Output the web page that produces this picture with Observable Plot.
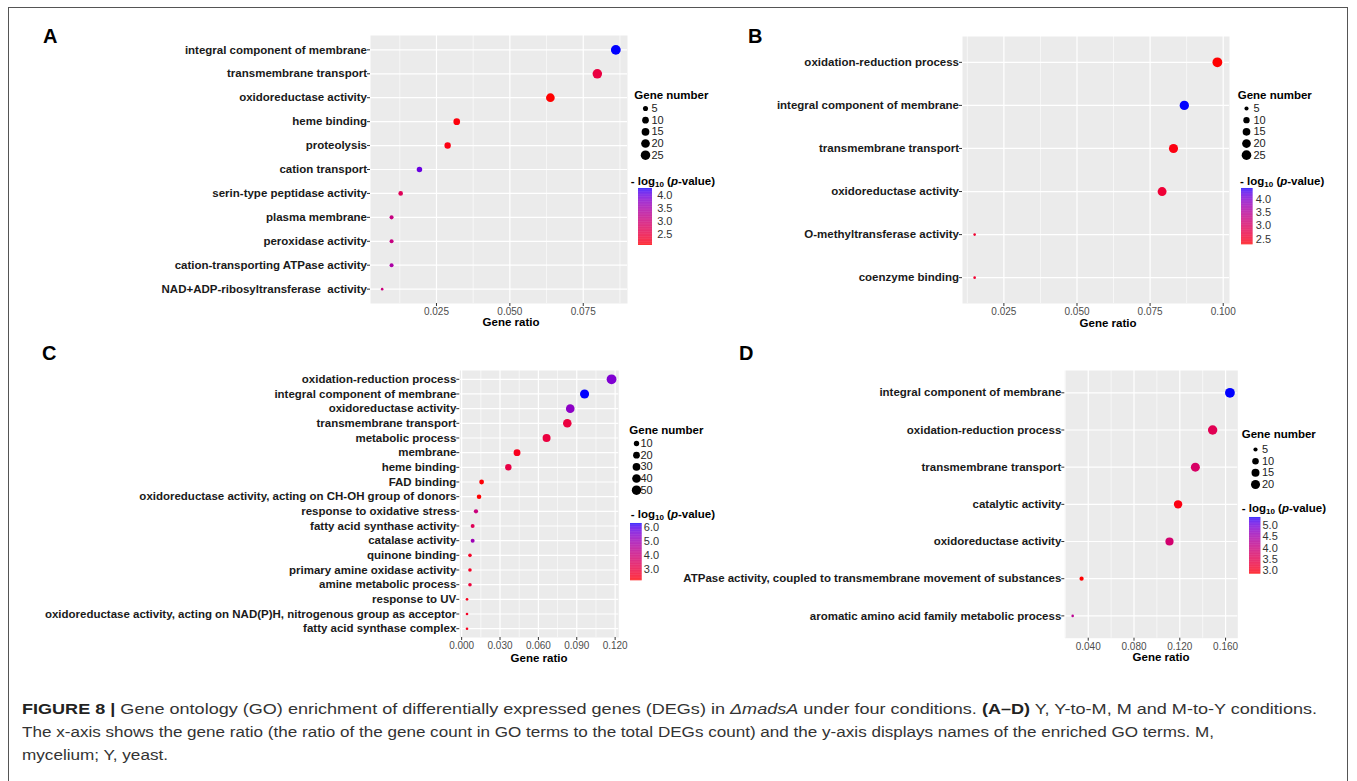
<!DOCTYPE html>
<html>
<head>
<meta charset="utf-8">
<script src="https://cdn.jsdelivr.net/npm/d3@7"></script>
<script src="https://cdn.jsdelivr.net/npm/@observablehq/plot@0.6"></script>
<style>
  html, body { margin: 0; padding: 0; background: #fff; }
  #page { position: relative; width: 1357px; height: 781px; overflow: hidden; background: #fff;
          font-family: "Liberation Sans", Arial, Helvetica, sans-serif; }
  #frame { position: absolute; left: 8px; top: 7px; width: 1340px; height: 800px; border: 1px solid #555; box-sizing: border-box; }
  .cap { position: absolute; left: 22px; white-space: nowrap; font-size: 15.5px; line-height: 23px; color: #333; transform-origin: 0 50%; }
  .cap b { color: #222; }
</style>
</head>
<body>
<div id="page"><div id="frame"></div></div>
<script>
// ---------------- DATA ----------------
// Panel A (Y)
const termsA = ["integral component of membrane", "transmembrane transport", "oxidoreductase activity",
  "heme binding", "proteolysis", "cation transport", "serin-type peptidase activity", "plasma membrane",
  "peroxidase activity", "cation-transporting ATPase activity", "NAD+ADP-ribosyltransferase  activity"];
const ratioA = [0.0861, 0.0798, 0.0638, 0.0319, 0.0288, 0.0192, 0.0128, 0.0097, 0.0097, 0.0097, 0.0065];
const countA = [27, 25, 20, 10, 9, 6, 4, 3, 3, 3, 2];
const logpA  = [4.27, 2.5, 2.08, 2.12, 2.15, 4.0, 2.7, 3.1, 3.1, 3.45, 3.05];
const xTicksA = [0.025, 0.050, 0.075];
const xMinorA = [0.0125, 0.0375, 0.0625, 0.0875];
const sizeBreaksA = [5, 10, 15, 20, 25];
const colorBreaksA = [2.5, 3.0, 3.5, 4.0];

// Panel B (Y-to-M)
const termsB = ["oxidation-reduction process", "integral component of membrane", "transmembrane transport",
  "oxidoreductase activity", "O-methyltransferase activity", "coenzyme binding"];
const ratioB = [0.0980, 0.0867, 0.0830, 0.0791, 0.0150, 0.0150];
const countB = [26, 23, 22, 21, 4, 4];
const logpB  = [2.29, 4.40, 2.35, 2.6, 2.55, 2.55];
const xTicksB = [0.025, 0.050, 0.075, 0.100];
const xMinorB = [0.0125, 0.0375, 0.0625, 0.0875];
const sizeBreaksB = [5, 10, 15, 20, 25];
const colorBreaksB = [2.5, 3.0, 3.5, 4.0];

// Panel C (M)
const termsC = ["oxidation-reduction process", "integral component of membrane", "oxidoreductase activity",
  "transmembrane transport", "metabolic process", "membrane", "heme binding", "FAD binding",
  "oxidoreductase activity, acting on CH-OH group of donors", "response to oxidative stress",
  "fatty acid synthase activity", "catalase activity", "quinone binding", "primary amine oxidase activity",
  "amine metabolic process", "response to UV",
  "oxidoreductase activity, acting on NAD(P)H, nitrogenous group as acceptor", "fatty acid synthase complex"];
const ratioC = [0.1172, 0.0961, 0.0849, 0.0826, 0.0664, 0.0433, 0.0365, 0.0156, 0.0136, 0.0112,
  0.0086, 0.0086, 0.0065, 0.0065, 0.0065, 0.0042, 0.0042, 0.0042];
const countC = [56, 46, 40, 39, 32, 21, 17, 7, 6, 5, 4, 4, 3, 3, 3, 2, 2, 2];
const logpC  = [5.5, 6.26, 5.3, 2.9, 2.9, 2.4, 3.0, 2.2, 2.16, 4.0, 3.3, 5.0, 2.5, 2.5, 2.8, 2.4, 2.5, 2.4];
const xTicksC = [0.000, 0.030, 0.060, 0.090, 0.120];
const xMinorC = [0.015, 0.045, 0.075, 0.105];
const sizeBreaksC = [10, 20, 30, 40, 50];
const colorBreaksC = [3.0, 4.0, 5.0, 6.0];

// Panel D (M-to-Y)
const termsD = ["integral component of membrane", "oxidation-reduction process", "transmembrane transport",
  "catalytic activity", "oxidoreductase activity",
  "ATPase activity, coupled to transmembrane movement of substances",
  "aromatic amino acid family metabolic process"];
const ratioD = [0.1638, 0.1487, 0.1336, 0.1185, 0.1110, 0.0342, 0.0264];
const countD = [24, 22, 20, 17, 16, 5, 4];
const logpD  = [5.38, 3.5, 3.7, 2.9, 3.8, 2.82, 4.2];
const xTicksD = [0.040, 0.080, 0.120, 0.160];
const xMinorD = [0.020, 0.060, 0.100, 0.140];
const sizeBreaksD = [5, 10, 15, 20];
const colorBreaksD = [3.0, 3.5, 4.0, 4.5, 5.0];

const captionLines = [
  '<b>FIGURE 8 |</b> Gene ontology (GO) enrichment of differentially expressed genes (DEGs) in <i>\u0394madsA</i> under four conditions. <b>(A\u2013D)</b> Y, Y-to-M, M and M-to-Y conditions.',
  'The x-axis shows the gene ratio (the ratio of the gene count in GO terms to the total DEGs count) and the y-axis displays names of the enriched GO terms. M,',
  'mycelium; Y, yeast.'
];

// ---------------- LAYOUT ----------------
const FONT = '"Liberation Sans", Arial, Helvetica, sans-serif';
const page = document.getElementById("page");

function put(node, left, top) {
  const d = document.createElement("div");
  d.style.position = "absolute";
  d.style.left = left + "px";
  d.style.top = top + "px";
  d.appendChild(node);
  page.appendChild(d);
  return d;
}
function label(html, x, cy, {size = 11.5, weight = "bold", color = "#000", anchor = "start"} = {}) {
  const d = document.createElement("div");
  d.innerHTML = html;
  Object.assign(d.style, {
    position: "absolute", left: x + "px", top: (cy - size * 0.6) + "px",
    font: `${weight} ${size}px ${FONT}`, lineHeight: (size * 1.2) + "px", color, whiteSpace: "nowrap"
  });
  if (anchor === "middle") d.style.transform = "translateX(-50%)";
  page.appendChild(d);
}
const baseStyle = {background: "transparent", maxWidth: "none", overflow: "visible", fontFamily: FONT};

function panel(cfg) {
  const {terms, ratio, count, logp, xTicks, xMinor, box, svgLeft, svgTop} = cfg;
  const data = terms.map((t, i) => ({term: t, ratio: ratio[i], n: count[i], lp: logp[i]}));
  const nExt = d3.extent(count);
  const rExt = d3.extent(ratio);
  const pad = (rExt[1] - rExt[0]) * 0.05;
  const cExt = d3.extent(logp);
  const rScale = {type: "sqrt", domain: [0, nExt[1] - nExt[0]], range: [1.3, 4.9], transform: v => v - nExt[0]};
  const cScale = {type: "linear", domain: cExt, range: ["#FF0000", "#0000FF"], interpolate: d3.interpolateLab};
  const [x0, x1, y0, y1] = box;
  const mR = 10, mB = 24;
  const chart = Plot.plot({
    width: x1 - svgLeft + mR,
    height: y1 - svgTop + mB,
    marginLeft: x0 - svgLeft, marginTop: y0 - svgTop, marginRight: mR, marginBottom: mB,
    style: baseStyle,
    x: {domain: [rExt[0] - pad, rExt[1] + pad]},
    y: {type: "point", domain: terms, padding: 0.6, round: false},
    r: rScale,
    color: cScale,
    marks: [
      Plot.frame({fill: "#EBEBEB", stroke: "none"}),
      Plot.gridX(xMinor, {stroke: "#fff", strokeOpacity: 1, strokeWidth: 0.6}),
      Plot.gridX(xTicks, {stroke: "#fff", strokeOpacity: 1, strokeWidth: 1.2}),
      Plot.gridY(terms, {stroke: "#fff", strokeOpacity: 1, strokeWidth: 1.2}),
      Plot.axisX(xTicks, {tickFormat: d3.format(".3f"), tickSize: 3, tickPadding: 1.5, fontSize: 10,
        fill: "#4D4D4D", stroke: "#333", label: null}),
      Plot.axisY(terms, {tickSize: 3, tickPadding: 0.5, fontSize: 11.5, fontWeight: "bold",
        fill: "#1A1A1A", stroke: "#333", label: null}),
      Plot.dot(data, {x: "ratio", y: "term", r: "n", fill: "lp"})
    ]
  });
  put(chart, svgLeft, svgTop);

  // axis title
  label("Gene ratio", cfg.xTitle[0], cfg.xTitle[1], {anchor: "middle"});
  // panel letter
  label(cfg.letter, cfg.letterPos[0], cfg.letterPos[1], {size: 20});

  // size legend
  const sl = cfg.sizeLegend;
  label("Gene number", sl.title[0], sl.title[1]);
  const sLeft = sl.dotX - 10;
  const sizeLeg = Plot.plot({
    width: 50, height: (sl.y[1] - sl.y[0]) + 20,
    marginLeft: 0, marginRight: 0, marginTop: 10, marginBottom: 10,
    style: baseStyle,
    y: {type: "point", domain: cfg.sizeBreaks, padding: 0, round: false, axis: null},
    r: rScale,
    marks: [
      Plot.dot(cfg.sizeBreaks, {y: d => d, r: d => d, fill: "#000", frameAnchor: "left", dx: 10}),
      Plot.text(cfg.sizeBreaks, {y: d => d, text: d => String(d), frameAnchor: "left", dx: sl.labelX - sLeft,
        textAnchor: "start", fontSize: 11, fill: "#222"})
    ]
  });
  put(sizeLeg, sLeft, sl.y[0] - 10);

  // color legend
  const cl = cfg.colorLegend;
  label('- log<sub style="font-size:8px;vertical-align:-2px">10</sub> (<i>p</i>-value)', cl.title[0], cl.title[1]);
  const nSteps = 80;
  const steps = d3.range(nSteps).map(i => cExt[0] + (cExt[1] - cExt[0]) * i / nSteps);
  const stepH = (cExt[1] - cExt[0]) / nSteps;
  const barW = cl.bar[1] - cl.bar[0];
  const colorLeg = Plot.plot({
    width: barW + 30, height: (cl.bar[3] - cl.bar[2]) + 20,
    marginLeft: 0, marginRight: 30, marginTop: 10, marginBottom: 10,
    style: baseStyle,
    x: {axis: null},
    y: {domain: cExt, axis: null},
    color: cScale,
    marks: [
      Plot.rect(steps, {y1: d => d, y2: d => d + stepH * 1.02, fill: d => d + stepH / 2}),
      Plot.axisY(cfg.colorBreaks, {anchor: "right", tickSize: 0, tickPadding: cl.labelX - cl.bar[1],
        tickFormat: d3.format(".1f"), fontSize: 11, fill: "#333", label: null})
    ]
  });
  put(colorLeg, cl.bar[0], cl.bar[2] - 10);
}

panel({
  terms: termsA, ratio: ratioA, count: countA, logp: logpA, xTicks: xTicksA, xMinor: xMinorA,
  sizeBreaks: sizeBreaksA, colorBreaks: colorBreaksA,
  box: [370, 627, 35, 303], svgLeft: 20, svgTop: 20,
  xTitle: [511, 323], letter: "A", letterPos: [43, 36],
  sizeLegend: {title: [634.3, 96], dotX: 644.5, labelX: 650.5, y: [108.3, 155]},
  colorLegend: {title: [630.7, 182], bar: [638, 652, 188, 245], labelX: 656.7}
});
panel({
  terms: termsB, ratio: ratioB, count: countB, logp: logpB, xTicks: xTicksB, xMinor: xMinorB,
  sizeBreaks: sizeBreaksB, colorBreaks: colorBreaksB,
  box: [962, 1229, 36, 303], svgLeft: 740, svgTop: 20,
  xTitle: [1108, 324], letter: "B", letterPos: [748, 36],
  sizeLegend: {title: [1237.7, 96], dotX: 1246, labelX: 1253, y: [108.3, 155]},
  colorLegend: {title: [1240, 182], bar: [1240.7, 1252.3, 187.7, 244], labelX: 1255}
});
panel({
  terms: termsC, ratio: ratioC, count: countC, logp: logpC, xTicks: xTicksC, xMinor: xMinorC,
  sizeBreaks: sizeBreaksC, colorBreaks: colorBreaksC,
  box: [459.3, 618.3, 370, 637], svgLeft: 20, svgTop: 350,
  xTitle: [539, 659], letter: "C", letterPos: [42, 353],
  sizeLegend: {title: [629.3, 431], dotX: 636, labelX: 640, y: [443.3, 490]},
  colorLegend: {title: [630.7, 515], bar: [630, 641.7, 522.7, 580], labelX: 643.3}
});
panel({
  terms: termsD, ratio: ratioD, count: countD, logp: logpD, xTicks: xTicksD, xMinor: xMinorD,
  sizeBreaks: sizeBreaksD, colorBreaks: colorBreaksD,
  box: [1064.3, 1237.3, 370, 637.7], svgLeft: 640, svgTop: 350,
  xTitle: [1161, 658], letter: "D", letterPos: [739, 353],
  sizeLegend: {title: [1241.7, 435], dotX: 1255, labelX: 1261.5, y: [449, 484]},
  colorLegend: {title: [1241.7, 509.3], bar: [1249.3, 1260.7, 516.7, 573.3], labelX: 1262.3}
});

// caption
const capTops = [697, 720, 743];
const capWidths = [1295, 1192, 146];   // measured line widths in the reference
captionLines.forEach((html, i) => {
  const d = document.createElement("div");
  d.className = "cap";
  d.style.top = capTops[i] + "px";
  d.innerHTML = html;
  page.appendChild(d);
  const w = d.getBoundingClientRect().width;
  d.style.transform = `scaleX(${capWidths[i] / w})`;
});
</script>
</body>
</html>
